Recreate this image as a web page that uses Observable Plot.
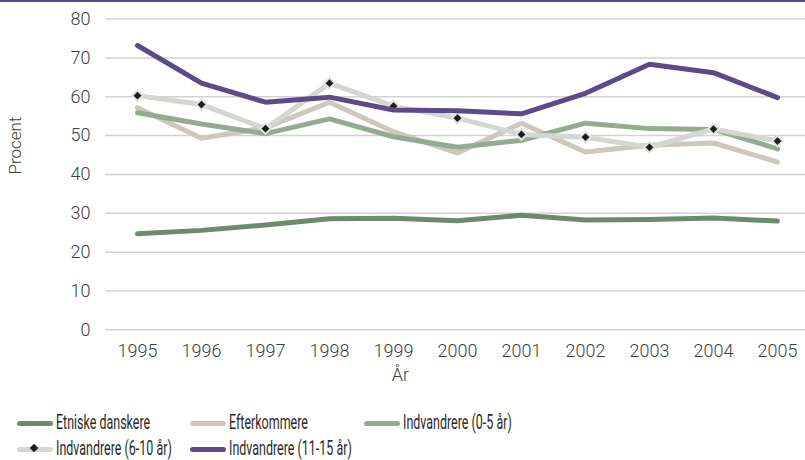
<!DOCTYPE html>
<html><head><meta charset="utf-8">
<script src="https://cdn.jsdelivr.net/npm/d3@7"></script>
<script src="https://cdn.jsdelivr.net/npm/@observablehq/plot@0.6"></script>
<style>
body{margin:0;background:#fff;font-family:Roboto,sans-serif;}
#page{position:relative;width:805px;height:460px;overflow:hidden;}
#chart{border-top:2px solid #5c4a8b;}
#chart svg{display:block;}
.item{position:absolute;display:flex;align-items:center;height:18px;}
.sw{position:relative;width:36px;height:5px;border-radius:3px;flex:none;}
.dia{position:absolute;left:14px;top:-1.5px;width:6px;height:6px;background:#1e1e1e;transform:rotate(45deg);}
.lab{display:inline-block;transform:scaleX(0.64);transform-origin:left center;white-space:nowrap;font-size:19.5px;line-height:18px;font-weight:400;color:#2a2a2a;margin-left:3px;}
</style></head>
<body>
<div id="page"><div id="chart"></div><div id="legend"></div></div>
<script>
const years = [1995,1996,1997,1998,1999,2000,2001,2002,2003,2004,2005];
const yTicks = [0,10,20,30,40,50,60,70,80];
const names = ["Etniske danskere","Efterkommere","Indvandrere (0-5 år)","Indvandrere (6-10 år)","Indvandrere (11-15 år)"];
const colors = ["#6c8a6c","#cdc8bb","#94aa91","#d4d7d0","#5c4a8b"];
const etniske     = [24.7,25.6,27.0,28.6,28.7,28.1,29.5,28.3,28.4,28.8,28.0];
const efterkommere= [57.2,49.3,52.0,58.6,51.0,45.5,53.2,45.8,47.5,48.1,43.2];
const indv0_5     = [55.9,53.0,50.5,54.3,49.7,47.0,48.8,53.2,51.8,51.6,46.6];
const indv6_10    = [60.3,58.0,51.8,63.5,57.6,54.5,50.3,49.6,47.0,51.7,48.6];
const indv11_15   = [73.2,63.5,58.6,59.9,56.6,56.4,55.6,60.9,68.4,66.2,59.8];
const seriesValues = [etniske, efterkommere, indv0_5, indv6_10, indv11_15];
const markerSeries = 3;

const marks = [
  Plot.gridY(yTicks, {stroke:"#d2d2d2", strokeOpacity:1, strokeWidth:1.5}),
  Plot.axisY(yTicks, {tickSize:0, tickPadding:15, label:null, fontWeight:300}),
  Plot.axisX(years, {tickSize:0, tickPadding:15, label:null, tickFormat:d=>String(d), fontWeight:300})
];
seriesValues.forEach((vals, si) => {
  const rows = years.map((y,i)=>({year:y, value:vals[i]}));
  marks.push(Plot.line(rows, {x:"year", y:"value", stroke:colors[si], strokeWidth:5, strokeLinejoin:"round", strokeLinecap:"round"}));
  if (si === markerSeries) {
    marks.push(Plot.dot(rows, {x:"year", y:"value", symbol:"diamond2", r:4.8, fill:"#1e1e1e", stroke:"#e2e4df", strokeWidth:2}));
  }
});
marks.push(Plot.text(["Procent"], {text:d=>d, frameAnchor:"left", dx:-90, rotate:-90, fontSize:17, fontWeight:300, ariaLabel:"ylabel"}));
marks.push(Plot.text(["År"], {text:d=>d, frameAnchor:"bottom", dy:51, dx:-55, fontSize:18, fontWeight:300}));

const chart = Plot.plot({
  width:805, height:395,
  marginLeft:105, marginRight:0, marginTop:17, marginBottom:68,
  x:{domain:[1994.5,2005.5], range:[105,809]},
  y:{domain:[0,80], range:[327.3,16.6]},
  style:{fontFamily:"Roboto, sans-serif", fontSize:"18px", color:"#404040", background:"white"},
  marks
});
document.getElementById("chart").appendChild(chart);
d3.select(chart).select('[aria-label="ylabel"] text').attr("textLength",37).attr("lengthAdjust","spacingAndGlyphs");

// legend
const legendPos = [[17,414],[190,414],[364,414],[17,440],[190,440]];
const legend = document.getElementById("legend");
names.forEach((n,i)=>{
  const it = document.createElement("div");
  it.className="item";
  it.style.left = legendPos[i][0]+"px";
  it.style.top = legendPos[i][1]+"px";
  const sw = document.createElement("div");
  sw.className="sw"; sw.style.background = colors[i];
  if (i===markerSeries){ const d=document.createElement("div"); d.className="dia"; sw.appendChild(d); }
  const lab = document.createElement("span");
  lab.className="lab"; lab.textContent = n;
  it.appendChild(sw); it.appendChild(lab);
  legend.appendChild(it);
});
</script>
</body></html>
